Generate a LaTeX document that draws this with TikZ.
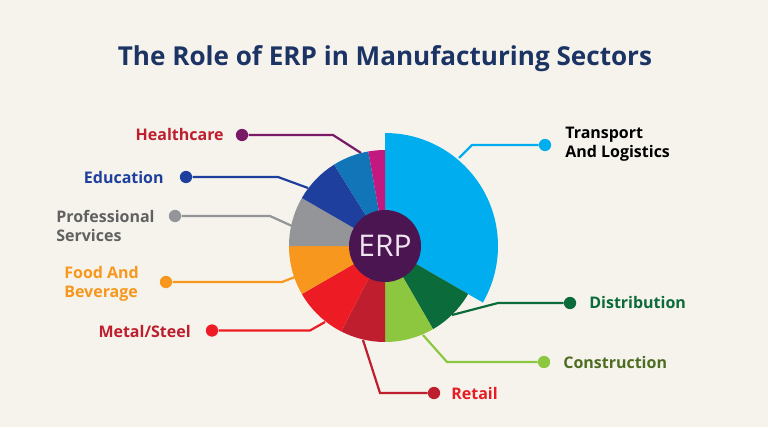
\documentclass[tikz,border=0pt]{standalone}
\usepackage{fontspec}
\setmainfont{Open Sans}
\usetikzlibrary{positioning}
\definecolor{bgcream}{HTML}{F5F3EC}
\definecolor{titleblue}{HTML}{1C3464}
\definecolor{hubpurple}{HTML}{4A1550}
\definecolor{hubtext}{HTML}{F0E4F0}
\definecolor{transportc}{HTML}{00AEEF}
\definecolor{distribc}{HTML}{0B6B3A}
\definecolor{constrc}{HTML}{8DC63F}
\definecolor{retailc}{HTML}{BE1E2D}
\definecolor{metalc}{HTML}{ED1C24}
\definecolor{foodc}{HTML}{F7971D}
\definecolor{profc}{HTML}{939598}
\definecolor{educ}{HTML}{1F3F9E}
\definecolor{medblue}{HTML}{1275B8}
\definecolor{healthc}{HTML}{C2187F}
\definecolor{healthline}{HTML}{7A1A66}
\tikzset{
  dotmark/.style={circle, fill=#1, minimum size=7pt, inner sep=0pt},
  leader/.style={line width=1.25pt, color=#1},
  tag/.style={font=\bfseries\fontsize{9.1}{10.6}\selectfont, align=left, inner sep=0pt, text=#1},
}
\begin{document}
\begin{tikzpicture}[x=0.02cm, y=0.02cm]
    \fill[bgcream] (0,0) rectangle (768,427);
    \useasboundingbox (0,0) rectangle (768,427);
    \node (title) at (385,368) [font=\bfseries\fontsize{14.85}{18}\selectfont, text=titleblue, inner sep=0pt] {The Role of ERP in Manufacturing Sectors};

    % where the lines meet the rim
    \coordinate (healthrim) at (361,274);
    \coordinate (edurim) at (308,239);
    \coordinate (profrim) at (292,201);
    \coordinate (foodrim) at (295,150);
    \coordinate (metalrim) at (325,105);
    \coordinate (retailrim) at (363,87);
    \coordinate (constrrim) at (423,92);
    \coordinate (distribrim) at (452,112);
    \coordinate (transportrim) at (459,269);

    \node (healthdot) at (242,292) [dotmark=healthline] {};
    \node (edudot) at (186,250) [dotmark=educ] {};
    \node (profdot) at (175,211) [dotmark=profc] {};
    \node (fooddot) at (166,145) [dotmark=foodc] {};
    \node (metaldot) at (212,96.5) [dotmark=metalc] {};
    \node (retaildot) at (434,34) [dotmark=retailc] {};
    \node (constrdot) at (544,65) [dotmark=constrc] {};
    \node (distribdot) at (570,124) [dotmark=distribc] {};
    \node (transportdot) at (545,282) [dotmark=transportc] {};

    \draw[leader=healthline] (healthdot) -- (333,292) -- (healthrim);
    \draw[leader=educ] (edudot) -- (278,250) -- (edurim);
    \draw[leader=profc] (profdot) -- (270,211) -- (profrim);
    \draw[leader=foodc] (fooddot) -- (282,145) -- (foodrim);
    \draw[leader=metalc] (metaldot) -- (310,96.5) -- (metalrim);
    \draw[leader=retailc] (retaildot) -- (380,34) -- (retailrim);
    \draw[leader=constrc] (constrdot) -- (447,65) -- (constrrim);
    \draw[leader=distribc] (distribdot) -- (498,124) -- (distribrim);
    \draw[leader=transportc] (transportdot) -- (472,282) -- (transportrim);

    % wedges, centre (385,181)
    \fill[transportc] (385,181) -- ++(90:113) arc (90:-30:113) -- cycle;
    \fill[distribc] (385,181) -- ++(-30:96) arc (-30:-60:96) -- cycle;
    \fill[constrc] (385,181) -- ++(-60:96) arc (-60:-90:96) -- cycle;
    \fill[retailc] (385,181) -- ++(-90:96) arc (-90:-117:96) -- cycle;
    \fill[metalc] (385,181) -- ++(-117:96) arc (-117:-150:96) -- cycle;
    \fill[foodc] (385,181) -- ++(-150:96) arc (-150:-180:96) -- cycle;
    \fill[profc] (385,181) -- ++(180:96) arc (180:150:96) -- cycle;
    \fill[educ] (385,181) -- ++(150:96) arc (150:122:96) -- cycle;
    \fill[medblue] (385,181) -- ++(122:96) arc (122:100:96) -- cycle;
    \fill[healthc] (385,181) -- ++(100:96) arc (100:90:96) -- cycle;

    \node (hub) at (385,181) [circle, fill=hubpurple, minimum size=72*0.02cm, inner sep=0pt, text=hubtext, font=\fontsize{17}{20}\selectfont] {ERP};

    \node (healthtag) at (224,292) [tag=retailc, anchor=east] {Healthcare};
    \node (edutag) at (164,249) [tag=educ, anchor=east] {Education};
    \node (proftag) at (56,201) [tag=black!62, anchor=west] {Professional\\Services};
    \node (foodtag) at (64,143) [tag=foodc, anchor=west] {Food And\\Beverage};
    \node (metaltag) at (191,95) [tag=retailc, anchor=east] {Metal/Steel};
    \node (retailtag) at (451,33) [tag=metalc!85!retailc, anchor=west] {Retail};
    \node (constrtag) at (563,64) [tag=constrc!55!black, anchor=west] {Construction};
    \node (distribtag) at (589,124) [tag=distribc, anchor=west] {Distribution};
    \node (transporttag) at (565,283) [tag=black, anchor=west] {Transport\\And Logistics};
\end{tikzpicture}
\end{document}
